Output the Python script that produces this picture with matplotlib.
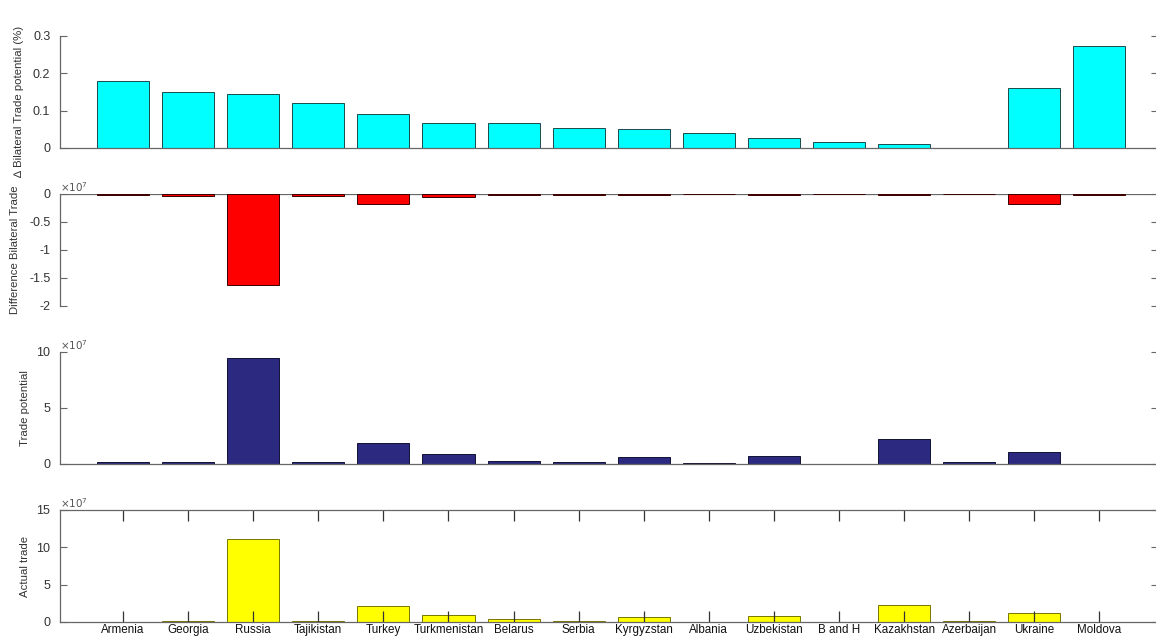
import matplotlib
matplotlib.use("Agg")
import matplotlib.pyplot as plt
from matplotlib.ticker import FuncFormatter
import numpy as np

countries = ["Armenia", "Georgia", "Russia", "Tajikistan", "Turkey", "Turkmenistan",
             "Belarus", "Serbia", "Kyrgyzstan", "Albania", "Uzbekistan", "B and H",
             "Kazakhstan", "Azerbaijan", "Ukraine", "Moldova"]

delta_potential_pct = [0.180, 0.150, 0.145, 0.120, 0.091, 0.067, 0.067, 0.054,
                       0.050, 0.040, 0.027, 0.015, 0.011, 0.001, 0.161, 0.273]

difference_trade = [-0.02e7, -0.03e7, -1.62e7, -0.03e7, -0.17e7, -0.05e7, -0.02e7, -0.01e7,
                    -0.02e7, -0.003e7, -0.02e7, -0.002e7, -0.02e7, -0.002e7, -0.18e7, -0.01e7]

trade_potential = [0.15e7, 0.2e7, 9.5e7, 0.2e7, 1.9e7, 0.9e7, 0.3e7, 0.2e7,
                   0.6e7, 0.1e7, 0.7e7, 0.02e7, 2.2e7, 0.2e7, 1.05e7, 0.0]

actual_trade = [0.05e7, 0.15e7, 11.1e7, 0.12e7, 2.14e7, 1.0e7, 0.35e7, 0.15e7,
                0.7e7, 0.05e7, 0.8e7, 0.02e7, 2.27e7, 0.15e7, 1.25e7, 0.0]

plt.rcParams['font.family'] = ['Liberation Sans', 'DejaVu Sans']
plt.rcParams['axes.unicode_minus'] = False

W, H = 1156, 637
fig = plt.figure(figsize=(W / 100, H / 100), dpi=100)

x = np.arange(1, len(countries) + 1)
axcol = '#666666'

def make_ax(top_px, bot_px):
    left = 60 / W
    right = 1158 / W
    return fig.add_axes([left, 1 - bot_px / H, right - left, (bot_px - top_px) / H])

def style(ax, ylim, yticks, label, sci=False, fmt=None):
    ax.set_xlim(0.032, 16.9)
    ax.set_ylim(*ylim)
    ax.set_yticks(yticks)
    for s in ['top', 'right']:
        ax.spines[s].set_visible(False)
    ax.spines['left'].set_color(axcol)
    ax.spines['bottom'].set_color(axcol)
    ax.spines['left'].set_linewidth(0.9)
    ax.spines['bottom'].set_linewidth(0.9)
    ax.tick_params(axis='y', direction='in', length=5, width=0.8, color=axcol,
                   labelsize=9, labelcolor='#333333', right=True, pad=7)
    ax.tick_params(axis='x', bottom=False, labelbottom=False)
    if sci:
        ax.yaxis.set_major_formatter(FuncFormatter(lambda v, p: '%g' % (v / 1e7)))
        ax.text(0.0, 1.0, r'$\times10^{7}$', transform=ax.transAxes, ha='left', va='bottom',
                fontsize=7.5, color='#555555')
    elif fmt:
        ax.yaxis.set_major_formatter(FuncFormatter(fmt))
    ax.set_ylabel(label, fontsize=8.2, color='#333333')
    ax.patch.set_alpha(0)

# Panel 1
ax1 = make_ax(36, 148)
ax1.bar(x, delta_potential_pct, width=0.8, color='#00FFFF', edgecolor='#1a4a4a', linewidth=0.7)
style(ax1, (0, 0.3), [0, 0.1, 0.2, 0.3], '\u2206 Bilateral Trade potential (%)',
      fmt=lambda v, p: '%g' % round(v, 2))
ax1.yaxis.set_label_coords(-0.033, 0.42)

# Panel 2
ax2 = make_ax(194, 306)
ax2.bar(x, difference_trade, width=0.8, color='#FF0000', edgecolor='#3a0000', linewidth=0.7)
style(ax2, (-2e7, 0), [-2e7, -1.5e7, -1e7, -0.5e7, 0], 'Difference Bilateral Trade', sci=True)
ax2.spines['bottom'].set_visible(False)
ax2.axhline(0, color=axcol, lw=0.9, zorder=0)
ax2.yaxis.set_label_coords(-0.036, 0.5)

# Panel 3
ax3 = make_ax(352, 464)
ax3.bar(x, trade_potential, width=0.8, color='#2B2A80', edgecolor='#111133', linewidth=0.7)
style(ax3, (0, 10e7), [0, 5e7, 10e7], 'Trade potential', sci=True)
ax3.yaxis.set_label_coords(-0.027, 0.5)

# Panel 4
ax4 = make_ax(510, 622)
ax4.bar(x, actual_trade, width=0.8, color='#FFFF00', edgecolor='#777700', linewidth=0.7)
style(ax4, (0, 15e7), [0, 5e7, 10e7, 15e7], 'Actual trade', sci=True)
ax4.spines['top'].set_visible(True)
ax4.spines['top'].set_color(axcol)
ax4.spines['top'].set_linewidth(0.9)
ax4.set_xticks(x)
ax4.set_xticklabels(countries)
ax4.tick_params(axis='x', bottom=True, top=True, labelbottom=True, direction='in',
                length=8, width=0.9, color='#333333', labelsize=8.4, pad=1.5,
                labelcolor='#111111')
ax4.yaxis.set_label_coords(-0.027, 0.5)

fig.savefig('out.png', dpi=100)
